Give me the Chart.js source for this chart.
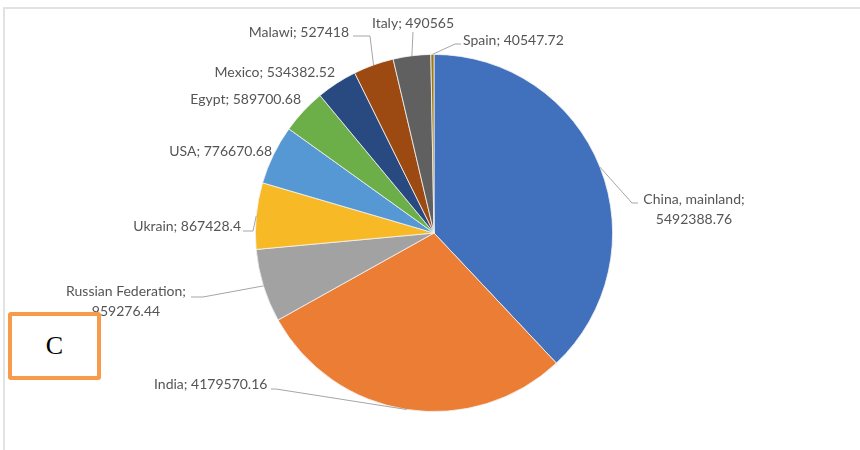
<!DOCTYPE html>
<html>
<head>
<meta charset="utf-8">
<script src="https://cdn.jsdelivr.net/npm/chart.js@4"></script>
<style>
  html, body { margin: 0; padding: 0; background: #fff; }
  #wrap { position: relative; width: 860px; height: 450px; overflow: hidden; }
  #frame { position: absolute; left: 3px; top: 7px; right: -4px; bottom: -4px;
           border-top: 2px solid #e2e2e2; border-left: 2px solid #e2e2e2; }
  #tag { position: absolute; left: 8px; top: 312px; width: 85px; height: 60px;
         border: 4px solid #f79a4b; border-radius: 3px; background: #fff;
         font: 26px 'Liberation Serif', serif; color: #000;
         display: flex; align-items: center; justify-content: center; }
</style>
</head>
<body>
<div id="wrap">
  <div id="frame"></div>
  <canvas id="pie"></canvas>
  <div id="tag">C</div>
</div>
<script>
const countries = ['China, mainland', 'India', 'Russian Federation', 'Ukrain', 'USA',
                   'Egypt', 'Mexico', 'Malawi', 'Italy', 'Spain']
const production = [5492388.76, 4179570.16, 959276.44, 867428.4, 776670.68,
                    589700.68, 534382.52, 527418, 490565, 40547.72]
const colors = ['#4170bc', '#eb7d35', '#a2a2a2', '#f7ba26', '#5598d3',
                '#6cae48', '#284a80', '#9c4912', '#606060', '#a07a10']

// where each label sits, plus the leader line bends (from the slice edge outwards)
const labelSpots = [
  { x: 694, y: 199, align: 'center', wrap: true, path: [[632, 203], [638, 203]] },
  { x: 154, y: 384, align: 'left', path: [[276, 389], [271, 389]] },
  { x: 126, y: 291, align: 'center', wrap: true, path: [[203, 297], [191, 297]] },
  { x: 241, y: 226, align: 'right', path: [[253, 231], [243, 231]] },
  { x: 272, y: 151, align: 'right' },
  { x: 301, y: 99, align: 'right' },
  { x: 335, y: 72, align: 'right' },
  { x: 349, y: 32, align: 'right', path: [[370, 36], [353, 36]] },
  { x: 413, y: 23, align: 'center', path: [[413, 32]] },
  { x: 463, y: 40, align: 'left', path: [[455, 44], [461, 44]] }
]

const outsideLabels = {
  id: 'outsideLabels',
  afterDatasetsDraw(chart) {
    const { ctx } = chart
    const meta = chart.getDatasetMeta(0)
    ctx.save()
    ctx.font = '14px Lato, sans-serif'
    ctx.fillStyle = '#555555'
    ctx.strokeStyle = '#a6a6a6'
    ctx.lineWidth = 1
    ctx.textBaseline = 'middle'
    meta.data.forEach((arc, i) => {
      const spot = labelSpots[i]
      const { x, y, startAngle, endAngle, outerRadius } = arc.getProps(['x', 'y', 'startAngle', 'endAngle', 'outerRadius'], true)
      if (spot.path) {
        const mid = (startAngle + endAngle) / 2
        ctx.beginPath()
        ctx.moveTo(x + Math.cos(mid) * outerRadius, y + Math.sin(mid) * outerRadius)
        spot.path.forEach(p => ctx.lineTo(p[0], p[1]))
        ctx.stroke()
      }
      const value = String(production[i])
      const lines = spot.wrap ? [countries[i] + ';', value] : [countries[i] + '; ' + value]
      ctx.textAlign = spot.align
      lines.forEach((t, k) => ctx.fillText(t, spot.x, spot.y + k * 20))
    })
    ctx.restore()
  }
}

new Chart(document.getElementById('pie'), {
  type: 'pie',
  plugins: [outsideLabels],
  data: {
    labels: countries,
    datasets: [{
      data: production,
      backgroundColor: colors,
      borderColor: '#f4f4f4',
      borderWidth: 0.8
    }]
  },
  options: {
    responsive: true,
    maintainAspectRatio: false,
    animation: false,
    layout: { padding: { top: 54, bottom: 38, left: 8, right: 0 } },
    plugins: {
      legend: { display: false },
      tooltip: { enabled: false }
    }
  }
})
</script>
</body>
</html>
